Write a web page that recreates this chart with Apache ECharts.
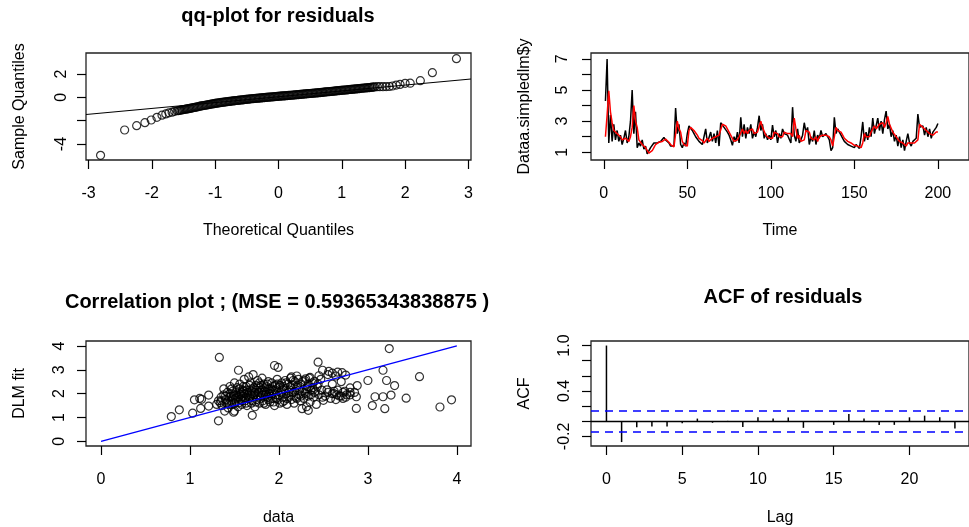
<!DOCTYPE html>
<html>
<head>
<meta charset="utf-8">
<script src="https://cdn.jsdelivr.net/npm/echarts@6/dist/echarts.min.js"></script>
<style>html,body{margin:0;padding:0;background:#fff}#container{width:969px;height:527px}</style>
</head>
<body>
<div id="container"></div>
<script>
// qq-plot of residuals (theoretical vs sample quantiles)
var qqTheo = [-2.81,-2.43,-2.24,-2.11,-2.01,-1.92,-1.84,-1.78,-1.73,-1.68,-1.64,
  -1.60,-1.58,-1.56,-1.54,-1.52,-1.50,-1.48,-1.46,-1.44,-1.42,
  -1.40,-1.38,-1.36,-1.34,-1.32,-1.30,-1.28,-1.26,-1.24,-1.22,
  -1.20,-1.18,-1.16,-1.14,-1.12,-1.10,-1.08,-1.06,-1.04,-1.02,
  -1.00,-0.98,-0.96,-0.94,-0.92,-0.90,-0.88,-0.86,-0.84,-0.82,
  -0.80,-0.78,-0.76,-0.74,-0.72,-0.70,-0.68,-0.66,-0.64,-0.62,
  -0.60,-0.58,-0.56,-0.54,-0.52,-0.50,-0.48,-0.46,-0.44,-0.42,
  -0.40,-0.38,-0.36,-0.34,-0.32,-0.30,-0.28,-0.26,-0.24,-0.22,
  -0.20,-0.18,-0.16,-0.14,-0.12,-0.10,-0.08,-0.06,-0.04,-0.02,
  0.00,0.02,0.04,0.06,0.08,0.10,0.12,0.14,0.16,0.18,
  0.20,0.22,0.24,0.26,0.28,0.30,0.32,0.34,0.36,0.38,
  0.40,0.42,0.44,0.46,0.48,0.50,0.52,0.54,0.56,0.58,
  0.60,0.62,0.64,0.66,0.68,0.70,0.72,0.74,0.76,0.78,
  0.80,0.82,0.84,0.86,0.88,0.90,0.92,0.94,0.96,0.98,
  1.00,1.02,1.04,1.06,1.08,1.10,1.12,1.14,1.16,1.18,
  1.20,1.22,1.24,1.26,1.28,1.30,1.32,1.34,1.36,1.38,
  1.40,1.42,1.44,1.46,1.48,1.50,1.52,
  1.56,1.60,1.65,1.70,1.75,1.80,1.86,1.92,2.00,2.08,2.24,2.43,2.81];
var qqSample = [-4.97,-2.80,-2.43,-2.17,-1.94,-1.71,-1.53,-1.42,-1.33,-1.27,-1.20,
  -1.15,-1.13,-1.11,-1.09,-1.07,-1.05,-1.03,-1.01,-0.99,-0.97,
  -0.95,-0.93,-0.90,-0.88,-0.86,-0.83,-0.81,-0.79,-0.76,-0.74,
  -0.72,-0.70,-0.68,-0.66,-0.64,-0.62,-0.60,-0.58,-0.56,-0.54,
  -0.52,-0.50,-0.49,-0.47,-0.46,-0.44,-0.42,-0.41,-0.39,-0.38,
  -0.36,-0.35,-0.34,-0.32,-0.31,-0.30,-0.28,-0.27,-0.26,-0.24,
  -0.23,-0.22,-0.21,-0.19,-0.18,-0.17,-0.16,-0.15,-0.13,-0.12,
  -0.11,-0.10,-0.09,-0.08,-0.07,-0.06,-0.05,-0.04,-0.03,-0.02,
  -0.01,0.00,0.01,0.02,0.03,0.04,0.05,0.06,0.07,0.08,
  0.09,0.10,0.11,0.12,0.12,0.13,0.14,0.15,0.16,0.17,
  0.18,0.19,0.20,0.21,0.22,0.23,0.24,0.25,0.26,0.27,
  0.28,0.29,0.30,0.31,0.32,0.33,0.34,0.35,0.36,0.37,
  0.38,0.39,0.40,0.41,0.42,0.43,0.44,0.46,0.47,0.48,
  0.49,0.50,0.51,0.52,0.53,0.55,0.56,0.57,0.58,0.59,
  0.60,0.61,0.62,0.63,0.64,0.66,0.67,0.68,0.69,0.70,
  0.71,0.72,0.73,0.74,0.75,0.77,0.78,0.79,0.80,0.81,
  0.82,0.83,0.84,0.85,0.87,0.88,0.89,
  0.91,0.91,0.91,0.92,0.93,0.97,1.05,1.11,1.20,1.21,1.43,2.11,3.31];
var qqLineX = [-3.04, 3.04];
var qqLineY = [-1.47, 1.57];

// time series: data and DLM fit, t = 1..200
var tsData = [
  4.3,7.0,1.6,3.4,1.7,2.8,1.8,2.4,1.7,2.1,
  1.5,1.9,2.4,1.6,2.0,3.0,5.0,2.2,3.6,1.3,
  1.6,1.4,1.8,1.2,1.4,0.9,0.85,1.3,1.2,1.6,
  1.7,1.6,1.7,1.7,1.8,1.95,1.8,1.7,1.6,1.4,
  1.3,1.4,3.85,2.2,2.8,1.5,1.3,1.6,1.4,2.2,
  2.7,2.6,2.4,2.2,2.0,1.9,1.7,1.8,1.5,1.4,
  2.5,1.6,1.5,2.3,1.7,2.2,1.6,2.4,1.4,2.9,
  3.0,2.6,2.7,2.3,2.1,1.8,1.45,2.0,1.7,2.3,
  1.6,3.25,2.0,2.8,1.9,2.6,2.2,2.8,1.9,2.3,
  2.0,2.6,3.35,2.4,2.8,1.9,2.2,1.8,2.1,1.8,
  2.75,2.0,2.4,1.6,2.2,1.9,2.5,2.2,2.3,2.1,
  2.2,1.6,3.9,2.1,1.7,2.5,1.6,1.8,2.1,2.9,
  2.3,2.6,1.5,2.0,1.7,2.4,1.5,2.1,1.9,2.4,
  2.0,2.1,2.2,2.0,1.8,1.1,1.3,3.25,2.2,2.5,
  2.3,2.1,1.9,1.7,1.8,1.5,1.6,1.4,1.5,1.3,
  1.5,1.4,1.25,2.0,2.95,1.7,2.3,1.8,2.6,2.0,
  3.2,2.2,2.7,3.2,2.4,3.0,2.2,3.1,3.65,2.5,
  2.8,2.0,2.4,1.7,2.1,1.4,2.0,1.3,1.8,1.1,
  1.7,2.2,1.6,1.4,1.7,1.6,1.9,3.45,2.6,2.5,
  2.7,2.1,2.6,2.0,2.5,1.9,2.3,2.2,2.6,2.85];
var tsFit = [
  2.0,3.4,4.95,3.6,2.9,2.4,2.5,2.2,2.1,2.0,
  1.8,1.7,1.9,1.8,1.7,2.0,2.6,4.0,3.0,2.6,
  1.8,1.7,1.5,1.6,1.3,1.2,0.95,1.0,1.1,1.3,
  1.5,1.6,1.65,1.7,1.7,1.8,1.85,1.75,1.65,1.5,
  1.4,1.35,1.4,3.0,2.5,2.3,1.7,1.5,1.5,1.4,
  2.4,2.6,2.5,2.4,2.3,2.1,1.9,1.8,1.75,1.6,
  1.5,1.9,1.7,1.6,1.9,1.8,2.0,2.0,2.1,2.0,
  2.8,2.9,2.7,2.6,2.3,2.2,1.9,1.7,1.8,1.8,
  2.0,1.9,2.5,2.2,2.4,2.2,2.4,2.4,2.5,2.2,
  2.2,2.3,2.4,3.0,2.6,2.5,2.1,2.0,1.9,1.95,
  1.9,2.3,2.2,2.2,2.0,2.1,2.0,2.3,2.2,2.2,
  2.15,2.2,2.0,3.2,2.5,1.9,2.1,1.7,1.75,1.8,
  2.4,2.4,2.3,1.9,1.9,1.8,2.0,1.7,2.0,2.0,
  2.1,2.05,2.1,2.1,2.0,1.8,1.4,1.4,2.6,2.4,
  2.4,2.3,2.1,1.9,1.8,1.7,1.6,1.6,1.5,1.45,
  1.45,1.4,1.35,1.3,1.6,2.2,2.0,2.1,2.0,2.3,
  2.2,2.7,2.5,2.6,2.8,2.7,2.9,2.6,2.9,3.3,
  2.8,2.7,2.3,2.3,2.0,1.9,1.7,1.8,1.6,1.6,
  1.4,1.6,1.7,1.6,1.55,1.6,1.6,1.8,2.8,2.7,
  2.6,2.6,2.4,2.5,2.2,2.3,2.1,2.2,2.3,2.3];

// correlation plot: [data, DLM fit]
var corPoints = [
  [0.79,1.04],[0.88,1.32],[1.03,1.18],[1.05,1.74],[1.11,1.80],[1.12,1.38],[1.13,1.76],[1.21,1.48],
  [1.21,1.94],[1.32,0.86],[1.33,3.52],[1.545,2.98],[1.39,1.27],[1.50,1.27],[1.49,1.22],
  [3.24,3.89],[2.44,3.32],[1.95,3.18],[1.99,3.10],[2.49,2.98],[3.17,2.98],[3.58,2.71],[3.00,2.55],
  [3.21,2.55],[3.30,2.34],[2.88,2.34],[2.80,2.24],[3.08,1.87],[3.17,1.87],[3.26,1.94],[3.43,1.81],
  [2.87,1.87],[2.87,1.38],[3.05,1.50],[3.19,1.37],[3.81,1.44],[3.94,1.74],[1.70,1.09],[2.33,1.30],
  [2.26,1.37],[2.50,1.72],[2.49,1.85],
  [2.55,2.80],[2.60,2.86],[2.66,2.90],[2.71,2.88],[2.75,2.78],[2.64,2.74],[2.45,2.75],[2.35,2.68],
  [2.30,2.62],[2.20,2.74],[2.14,2.70],[2.40,2.52],[2.56,2.93],
  [2.54,2.16],[2.60,2.00],[2.65,1.95],[2.70,1.90],[2.75,1.85],[2.80,1.95],[2.85,2.05],[2.62,2.10],[2.72,2.05],
  [1.30,1.55],[1.32,1.70],[1.34,1.62],[1.35,1.85],[1.36,1.50],[1.38,1.95],[1.38,2.20],[1.40,1.75],
  [1.41,1.60],[1.42,2.05],[1.43,1.40],[1.44,1.85],[1.45,2.30],[1.46,1.70],[1.47,1.55],[1.48,2.10],
  [1.49,1.95],[1.50,2.45],[1.51,1.80],[1.52,1.65],[1.53,2.25],[1.54,1.45],[1.55,2.00],[1.56,2.40],
  [1.57,1.75],[1.58,1.55],[1.59,2.15],[1.60,1.90],[1.61,2.60],[1.62,1.70],[1.63,2.30],[1.64,1.50],
  [1.65,2.05],[1.66,2.70],[1.67,1.85],[1.68,2.45],[1.69,1.60],[1.70,2.20],[1.71,2.80],[1.72,1.95],
  [1.73,1.45],[1.74,2.35],[1.75,1.75],[1.76,2.55],[1.77,2.05],[1.78,1.60],[1.79,2.25],[1.80,1.90],
  [1.81,2.65],[1.82,1.70],[1.83,2.40],[1.84,2.10],[1.85,1.55],[1.86,2.30],[1.87,1.85],[1.88,2.50],
  [1.89,2.00],[1.90,1.65],[1.91,2.20],[1.92,2.45],[1.93,1.80],[1.94,2.10],[1.95,1.50],[1.96,2.35],
  [1.97,1.95],[1.98,2.60],[1.99,1.75],[2.00,2.25],[2.01,1.60],[2.02,2.05],[2.03,2.45],[2.04,1.85],
  [2.05,2.30],[2.06,1.70],[2.07,2.55],[2.08,2.00],[2.09,1.55],[2.10,2.40],[2.11,1.90],[2.12,2.15],
  [2.13,2.65],[2.14,1.75],[2.15,2.35],[2.16,2.05],[2.17,1.60],[2.18,2.50],[2.19,1.85],[2.20,2.25],
  [2.22,2.60],[2.23,1.95],[2.24,1.70],[2.25,2.40],[2.26,2.10],[2.28,1.80],[2.29,2.55],[2.30,2.00],
  [2.31,1.45],[2.32,2.30],[2.33,1.90],[2.34,2.65],[2.35,1.65],[2.36,2.15],[2.38,2.45],[2.39,1.85],
  [2.40,2.05],[2.42,1.55],[2.43,2.30],[2.45,1.95],[2.47,2.60],[2.48,2.15],[2.52,1.90],[2.55,2.05],
  [2.58,1.80],[2.60,2.40],[2.62,2.00],[2.64,1.75],[2.66,2.15],[2.68,1.90],[2.70,2.50],[2.72,1.80],
  [2.74,2.10],[2.76,1.95],[2.80,2.05],
  [1.45,2.00],[1.50,1.90],[1.55,1.85],[1.60,2.10],[1.65,1.95],[1.70,2.00],[1.75,2.15],[1.80,2.05],
  [1.85,1.95],[1.90,2.10],[1.60,2.30],[1.70,1.70],[1.80,2.35],[1.50,1.60],[1.40,1.90],[1.35,1.70],
  [1.48,1.75],[1.62,1.82],[1.72,2.25],[1.58,2.05],
  [1.42,1.65],[1.44,1.55],[1.46,1.90],[1.47,2.20],[1.52,2.05],[1.53,1.85],[1.55,1.62],[1.56,2.20],
  [1.57,1.95],[1.59,1.70],[1.61,2.00],[1.63,1.60],[1.64,2.15],[1.66,1.80],[1.67,2.35],[1.68,1.95],
  [1.69,2.10],[1.71,1.85],[1.73,2.05],[1.74,1.65],[1.76,1.90],[1.77,2.30],[1.78,2.45],[1.79,1.80],
  [1.81,2.15],[1.82,1.95],[1.83,1.60],[1.84,2.25],[1.86,2.05],[1.87,2.40],[1.88,1.75],[1.89,2.20],
  [1.91,1.90],[1.92,2.00],[1.93,2.30],[1.94,1.65],[1.96,2.15],[1.97,1.80],[1.98,2.40],[2.00,1.95],
  [2.01,2.35],[2.03,2.10],[2.04,1.65],[2.06,2.20],[2.08,2.45],[2.09,1.80],[2.11,2.05],[2.13,2.30],
  [2.14,1.95],[2.16,2.55],[2.18,2.10],[2.20,1.80],[2.21,2.35],[2.23,2.15],[2.25,1.90],[2.27,2.50],
  [2.29,2.05],[2.31,2.20],[2.33,2.40],[2.36,1.95],[2.38,2.25],[2.41,2.10],[2.44,2.40]];
var corLineX = [0, 4];
var corLineY = [0, 4];

// ACF of residuals
var acfLag = [0,1,2,3,4,5,6,7,8,9,10,11,12,13,14,15,16,17,18,19,20,21,22,23];
var acfVal = [1.0,-0.275,-0.08,-0.07,-0.07,-0.025,0.035,-0.02,0.005,-0.075,0.052,0.035,
  0.05,-0.087,0.004,-0.048,0.096,0.035,-0.048,-0.048,0.052,0.074,0.052,-0.096];
var acfCi = 0.144;

var font = 'Liberation Sans';
var txt = {color: '#000', fontSize: 16, fontFamily: font};

function zip(a, b) {
  return a.map(function (v, i) { return [v, b[i]]; });
}
var tsT = tsData.map(function (v, i) { return i + 1; });

function xAx(g, min, max, ticks, name, gap) {
  return {
    type: 'value', gridIndex: g, min: min, max: max,
    axisLine: {show: false, onZero: false},
    axisTick: {show: true, length: 9, customValues: ticks, lineStyle: {color: '#000', width: 1.2}},
    axisLabel: Object.assign({customValues: ticks, margin: 26}, txt),
    splitLine: {show: false},
    name: name, nameLocation: 'middle', nameGap: gap, nameTextStyle: txt
  };
}
function yAx(g, min, max, ticks, labels, name, margin, fmt) {
  return {
    type: 'value', gridIndex: g, min: min, max: max,
    axisLine: {show: false, onZero: false},
    axisTick: {show: true, length: 9, customValues: ticks, lineStyle: {color: '#000', width: 1.2}},
    axisLabel: Object.assign({customValues: labels, margin: margin, rotate: 90, formatter: fmt}, txt),
    splitLine: {show: false},
    name: name, nameLocation: 'middle', nameGap: 58, nameRotate: 90, nameTextStyle: txt
  };
}
var box = {show: true, borderColor: '#222', borderWidth: 1.3, backgroundColor: 'transparent'};
var circle = {color: 'rgba(0,0,0,0)', borderColor: '#000', borderWidth: 1.2};

var option = {
  backgroundColor: '#fff',
  animation: false,
  title: [
    {text: 'qq-plot for residuals', left: 278, top: 6, textAlign: 'center', padding: 0,
      textStyle: {fontSize: 20, fontWeight: 'bold', fontFamily: font, color: '#000'}},
    {text: 'Correlation plot ; (MSE = 0.59365343838875 )', left: 277, top: 292, textAlign: 'center', padding: 0,
      textStyle: {fontSize: 20, fontWeight: 'bold', fontFamily: font, color: '#000'}},
    {text: 'ACF of residuals', left: 783, top: 287, textAlign: 'center', padding: 0,
      textStyle: {fontSize: 20, fontWeight: 'bold', fontFamily: font, color: '#000'}}
  ],
  grid: [
    Object.assign({left: 86, top: 53, width: 385, height: 107}, box),
    Object.assign({left: 591, top: 53, width: 385, height: 107}, box),
    Object.assign({left: 86, top: 341, width: 385, height: 106}, box),
    Object.assign({left: 591, top: 341, width: 385, height: 106}, box)
  ],
  xAxis: [
    xAx(0, -3.04, 3.04, [-3,-2,-1,0,1,2,3], 'Theoretical Quantiles', 63),
    xAx(1, -7.64, 218.6, [0,50,100,150,200], 'Time', 63),
    xAx(2, -0.169, 4.159, [0,1,2,3,4], 'data', 64),
    xAx(3, -1.02, 23.93, [0,5,10,15,20], 'Lag', 64)
  ],
  yAxis: [
    yAx(0, -5.37, 3.80, [-4,-2,0,2], [-4,0,2], 'Sample Quantiles', 16),
    yAx(1, 0.505, 7.38, [1,2,3,4,5,6,7], [1,3,5,7], 'Dataa.simpledlm$y', 20),
    yAx(2, -0.195, 4.207, [0,1,2,3,4], [0,1,2,3,4], 'DLM fit', 18),
    yAx(3, -0.327, 1.06, [-0.2,0,0.2,0.4,0.6,0.8,1.0], [-0.2,0.4,1.0], 'ACF', 18,
      function (v) { return v.toFixed(1); })
  ],
  series: [
    {type: 'scatter', xAxisIndex: 0, yAxisIndex: 0, data: zip(qqTheo, qqSample),
      symbol: 'circle', symbolSize: 8, itemStyle: circle},
    {type: 'line', xAxisIndex: 0, yAxisIndex: 0, data: zip(qqLineX, qqLineY),
      showSymbol: false, lineStyle: {color: '#000', width: 1.2}},
    {type: 'line', xAxisIndex: 1, yAxisIndex: 1, data: zip(tsT, tsData),
      showSymbol: false, lineStyle: {color: '#000', width: 1.5}},
    {type: 'line', xAxisIndex: 1, yAxisIndex: 1, data: zip(tsT, tsFit),
      showSymbol: false, lineStyle: {color: '#ff0000', width: 1.5}},
    {type: 'scatter', xAxisIndex: 2, yAxisIndex: 2, data: corPoints,
      symbol: 'circle', symbolSize: 8, itemStyle: circle},
    {type: 'line', xAxisIndex: 2, yAxisIndex: 2, data: zip(corLineX, corLineY),
      showSymbol: false, lineStyle: {color: '#0000ff', width: 1.3}},
    {type: 'bar', xAxisIndex: 3, yAxisIndex: 3, data: zip(acfLag, acfVal),
      barWidth: 1.5, itemStyle: {color: '#000'},
      markLine: {
        silent: true, symbol: 'none', label: {show: false},
        data: [
          {yAxis: 0, lineStyle: {color: '#000', width: 1.3, type: 'solid'}},
          {yAxis: acfCi, lineStyle: {color: '#0000ff', width: 1.5, type: [8, 6]}},
          {yAxis: -acfCi, lineStyle: {color: '#0000ff', width: 1.5, type: [8, 6]}}
        ]
      }}
  ]
};

var chart = echarts.init(document.getElementById('container'));
chart.setOption(option);
</script>
</body>
</html>
